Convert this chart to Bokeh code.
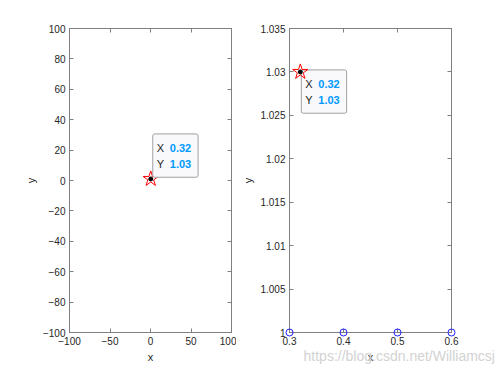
from bokeh.plotting import figure
from bokeh.layouts import row
from bokeh.models import Range1d, LinearAxis, FixedTicker, Label, CustomJSTickFormatter
from bokeh.core.properties import value
from bokeh.embed import file_html
from bokeh.resources import INLINE

# ---- data ----
tip_x = [0.32]
tip_y = [1.03]
circ_x = [0.3, 0.4, 0.5, 0.6]
circ_y = [1.0, 1.0, 1.0, 1.0]

left_xticks = [-100, -50, 0, 50, 100]
left_yticks = [-100, -80, -60, -40, -20, 0, 20, 40, 60, 80, 100]
right_xticks = [0.3, 0.4, 0.5, 0.6]
right_xlabels = ["0.3", "0.4", "0.5", "0.6"]
right_yticks = [1.0, 1.005, 1.01, 1.015, 1.02, 1.025, 1.03, 1.035]
right_ylabels = ["1", "1.005", "1.01", "1.015", "1.02", "1.025", "1.03", "1.035"]

tip_label_x = "X"
tip_label_y = "Y"
tip_val_x = "0.32"
tip_val_y = "1.03"
watermark = "https://blog.csdn.net/Williamcsj"
watermark_x = [0.326]
watermark_y = [0.99724]

FONT = "Liberation Sans"
TXT = "#262626"
AX = "#808080"
BLUE_VAL = "#0099ff"


def style_axis(ax, ticks, labels=None, show_labels=True):
    ax.ticker = FixedTicker(ticks=ticks)
    ax.axis_line_color = AX
    ax.major_tick_line_color = AX
    ax.major_tick_in = 4
    ax.major_tick_out = 0
    ax.minor_tick_line_color = None
    ax.major_label_text_font = FONT
    ax.major_label_text_font_size = "10px"
    ax.major_label_text_color = TXT
    ax.major_label_standoff = 4
    ax.axis_label_text_font = FONT
    ax.axis_label_text_font_size = "11px"
    ax.axis_label_text_font_style = "normal"
    ax.axis_label_text_color = TXT
    ax.axis_label_standoff = 3
    if labels is not None:
        ax.major_label_overrides = {t: l for t, l in zip(ticks, labels)}
    if not show_labels:
        ax.formatter = CustomJSTickFormatter(code="return ''")
        ax.major_label_standoff = 0


def make_fig(width, xr, yr, bl, br, xt, yt, xl=None, yl=None):
    p = figure(width=width, height=374, x_range=Range1d(*xr), y_range=Range1d(*yr),
               output_backend="svg", toolbar_location=None,
               min_border_left=bl, min_border_right=br, min_border_top=28, min_border_bottom=42,
               x_axis_label="x", y_axis_label="y")
    p.grid.visible = False
    p.outline_line_color = AX
    p.background_fill_color = "white"
    p.border_fill_color = "white"
    style_axis(p.xaxis[0], xt, xl)
    style_axis(p.yaxis[0], yt, yl)
    top = LinearAxis()
    style_axis(top, xt, show_labels=False)
    p.add_layout(top, "above")
    right = LinearAxis()
    style_axis(right, yt, show_labels=False)
    p.add_layout(right, "right")
    return p


def add_tip(p, xo, yo):
    box = Label(x=tip_x[0], y=tip_y[0], text=tip_label_x + "\n" + tip_label_y,
                x_offset=xo, y_offset=yo, anchor="top_left",
                text_font=FONT, text_font_size="11px", text_color=TXT, text_line_height=1.36,
                background_fill_color="#f9f9fb", border_line_color="#a0a0a0",
                border_line_width=1, border_radius=2,
                padding=dict(left=4, right=34, top=8, bottom=7))
    p.add_layout(box)
    val = Label(x=tip_x[0], y=tip_y[0], text=tip_val_x + "\n" + tip_val_y,
                x_offset=xo + 17, y_offset=yo - 8, anchor="top_left",
                text_font=FONT, text_font_size="11px", text_font_style="bold",
                text_color=BLUE_VAL, text_line_height=1.36)
    p.add_layout(val)


# left subplot
p1 = make_fig(236, (-100, 100), (-100, 100), 69, 5, left_xticks, left_yticks)
p1.scatter(tip_x, tip_y, marker="star", size=16, fill_color=None, line_color="#ff0000", line_width=1)
p1.scatter(tip_x, tip_y, marker="circle", size=4, fill_color="black", line_color="black")
add_tip(p1, 2, 45)

# right subplot
p2 = make_fig(263, (0.3, 0.6), (1.0, 1.035), 53, 48, right_xticks, right_yticks,
              right_xlabels, right_ylabels)
p2.scatter(circ_x, circ_y, marker="circle", size=7, fill_color=None, line_color="#2020ff",
           line_width=1, level="overlay")
p2.scatter(tip_x, tip_y, marker="star", size=16, fill_color=None, line_color="#ff0000",
           line_width=1, level="overlay")
p2.scatter(tip_x, tip_y, marker="circle", size=4, fill_color="black", line_color="black",
           level="overlay")
add_tip(p2, 1, 2)
p2.text(x=watermark_x, y=watermark_y, text=[watermark], level="overlay",
        text_baseline="middle", text_align="left",
        text_font=value(FONT), text_font_size="14px", text_color="#d2d2d2")

layout = row(p1, p2)
open("out.html", "w").write(file_html(layout, INLINE))
